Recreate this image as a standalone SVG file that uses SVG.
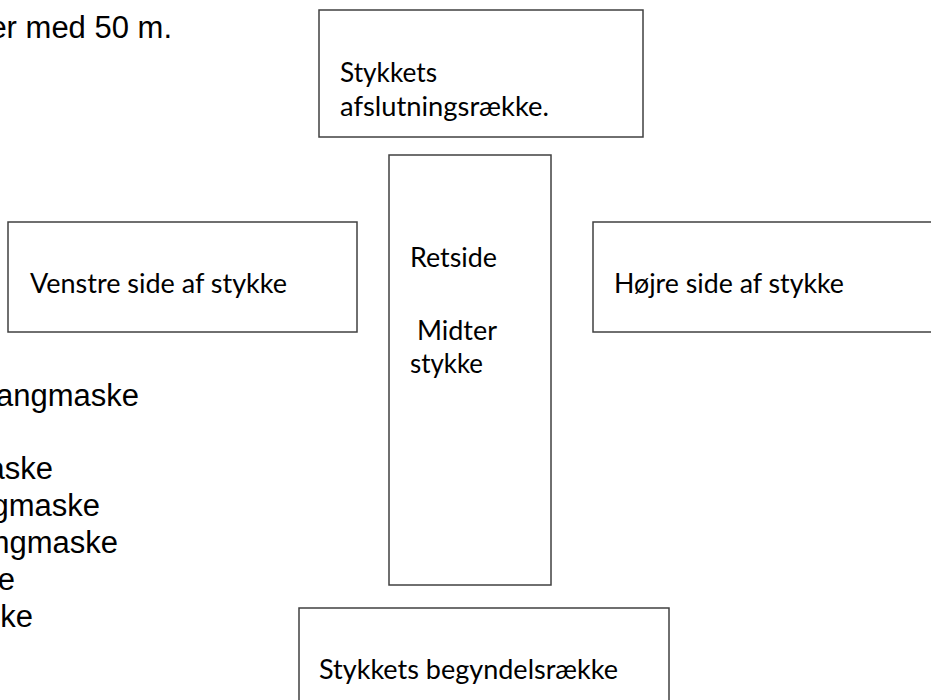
<svg xmlns="http://www.w3.org/2000/svg" width="931" height="700" viewBox="0 0 931 700">
<style>
.box{fill:#ffffff;stroke:#404040;stroke-width:1.5}
.lbl{font-family:Lato,"Open Sans","Liberation Sans",sans-serif;font-size:26px;fill:#000000}
.side{font-family:"Liberation Sans",Arial,sans-serif;font-size:31px;fill:#000000;text-anchor:end}
</style>
<rect width="931" height="700" fill="#ffffff"/>
<g id="side-text">
<text class="side" x="172" y="38">er med 50 m.</text>
<text class="side" x="139" y="406">angmaske</text>
<text class="side" x="53" y="479">aske</text>
<text class="side" x="100" y="516">gmaske</text>
<text class="side" x="118" y="553">ngmaske</text>
<text class="side" x="15" y="590">e</text>
<text class="side" x="33" y="627">ke</text>
</g>
<g id="afslutning">
<rect class="box" x="319" y="10" width="324" height="127"/>
<text class="lbl" x="340" y="82" textLength="97" lengthAdjust="spacingAndGlyphs">Stykkets</text>
<text class="lbl" x="340" y="116" textLength="209" lengthAdjust="spacingAndGlyphs">afslutningsrække.</text>
</g>
<g id="venstre">
<rect class="box" x="8" y="222" width="349" height="110"/>
<text class="lbl" x="30" y="293" textLength="257" lengthAdjust="spacingAndGlyphs">Venstre side af stykke</text>
</g>
<g id="midter">
<rect class="box" x="389" y="155" width="162" height="430"/>
<text class="lbl" x="410" y="267" textLength="87" lengthAdjust="spacingAndGlyphs">Retside</text>
<text class="lbl" x="417" y="340" textLength="80" lengthAdjust="spacingAndGlyphs">Midter</text>
<text class="lbl" x="410" y="373" textLength="73" lengthAdjust="spacingAndGlyphs">stykke</text>
</g>
<g id="hoejre">
<rect class="box" x="593" y="222" width="345" height="110"/>
<text class="lbl" x="614" y="293" textLength="230" lengthAdjust="spacingAndGlyphs">Højre side af stykke</text>
</g>
<g id="begyndelse">
<rect class="box" x="299" y="608" width="370" height="100"/>
<text class="lbl" x="319" y="679" textLength="299" lengthAdjust="spacingAndGlyphs">Stykkets begyndelsrække</text>
</g>
<g id="connectors"/>
</svg>
